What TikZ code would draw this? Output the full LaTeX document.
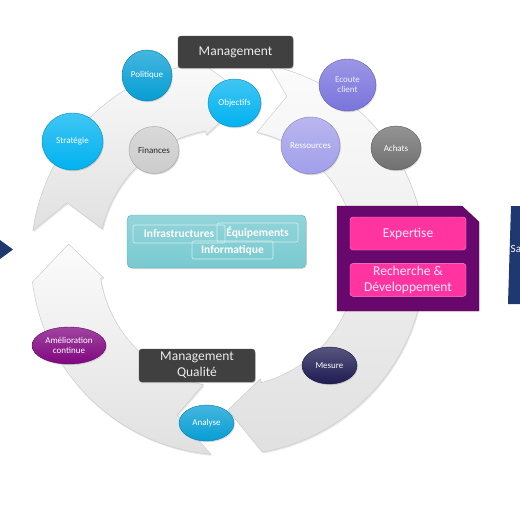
\documentclass[tikz,border=0pt]{standalone}
\usepackage{fontspec}
\setmainfont{Carlito}
\usetikzlibrary{positioning, shapes.geometric, shadows}

\definecolor{darkbox}{RGB}{64,64,64}
\definecolor{skyblue}{RGB}{0,178,240}
\definecolor{deepsky}{RGB}{6,158,212}
\definecolor{lightgrey}{RGB}{204,204,204}
\definecolor{slateblue}{RGB}{122,116,220}
\definecolor{lavender}{RGB}{162,158,234}
\definecolor{midgrey}{RGB}{112,112,112}
\definecolor{tealbox}{RGB}{120,202,208}
\definecolor{plum}{RGB}{104,8,108}
\definecolor{hotpink}{RGB}{255,52,160}
\definecolor{improvepurple}{RGB}{128,6,128}
\definecolor{nightblue}{RGB}{30,28,82}
\definecolor{navyblue}{RGB}{31,56,112}

\begin{document}
\begin{tikzpicture}[x=1pt, y=-1pt,
    ringpart/.style={draw=gray!40, line width=0.5pt, top color=gray!3, bottom color=gray!24,
        drop shadow={opacity=0.2, shadow xshift=1pt, shadow yshift=-1.5pt}},
    bubble/.style={ellipse, draw=#1!80!black, line width=0.4pt, top color=#1!75!white, bottom color=#1,
        text=white, align=center, inner sep=0pt, font=\fontsize{9}{10}\selectfont,
        drop shadow={opacity=0.3, shadow xshift=0.8pt, shadow yshift=-1.2pt}},
    darkblock/.style={rectangle, rounded corners=3pt, draw=black!70, fill=darkbox, text=gray!15, align=center,
        inner sep=0pt, minimum width=115pt, minimum height=32pt, font=\fontsize{13.5}{16}\selectfont,
        drop shadow={opacity=0.3, shadow xshift=0.8pt, shadow yshift=-1.2pt}},
    pinkblock/.style={rectangle, rounded corners=3pt, draw=hotpink!55!white, fill=hotpink, text=white!90!hotpink,
        align=center, inner sep=0pt, minimum width=116pt, minimum height=33pt, font=\fontsize{13.5}{16}\selectfont},
    tag/.style={rectangle, rounded corners=2pt, draw=white!70!tealbox, line width=0.6pt, text=white,
        font=\bfseries\fontsize{11.5}{12}\selectfont, inner sep=0pt}]

\useasboundingbox (0,0) rectangle (520,520);

% Ring
\begin{scope}[shift={(228,258)}]
\path [ringpart] (188:197) arc[start angle=188, end angle=260, radius=197] -- (260:205) -- (277:163)
    -- (260:125) -- (260:129) arc[start angle=260, end angle=193, radius=129] -- (199:170) -- cycle;
\path [ringpart] (282:197) arc[start angle=282, end angle=440, radius=197] -- (450:152)
    -- (435:125) -- (435:129) arc[start angle=435, end angle=283, radius=129] -- (290:172) -- cycle;
\path [ringpart] (95:197) arc[start angle=95, end angle=173, radius=197] -- (185:160)
    -- (171:126) -- (171:129) arc[start angle=171, end angle=101, radius=129] -- (108:165) -- cycle;
\end{scope}

% Side arrows
\begin{scope}
\clip (0,0) rectangle (520,520);
\fill [navyblue] (0,240) -- (13,249.5) -- (0,259) -- cycle;
\fill [navyblue] (511,206) -- (530,206) -- (530,304) -- (508,304) -- cycle;
\node [anchor=west, text=white, inner sep=0pt, font=\fontsize{11}{12}\selectfont] (sat) at (510.5,249) {Sa};
\end{scope}

% Expertise panel
\draw [plum!70!black, fill=plum] (337,206) -- (462,206) -- (479,222) -- (479,311) -- (337,311) -- cycle;
\node [pinkblock] (expertise) at (408,233.5) {Expertise};
\node [pinkblock, below=13pt of expertise] (recherche) {Recherche \&\\Développement};

% Infrastructure panel
\node [rectangle, rounded corners=5pt, draw=tealbox!85!black, top color=tealbox!80!white, bottom color=tealbox,
    minimum width=179pt, minimum height=53pt,
    drop shadow={opacity=0.3, shadow xshift=0.8pt, shadow yshift=-1.2pt}] (infra) at (216.5,241.5) {};
\node [tag, minimum width=92pt, minimum height=18pt] (infrastructures) at (179,234) {Infrastructures};
\node [tag, minimum width=81pt, minimum height=19pt] (equipements) at (257.5,232.5) {Équipements};
\node [tag, minimum width=81pt, minimum height=18pt] (informatique) at (232.5,250) {Informatique};

% Nodes
\node [darkblock] (management) at (235.5,52) {Management};
\node [bubble=skyblue, minimum width=61pt, minimum height=57pt] (strategie) at (72.5,141.5) {Stratégie};
\node [bubble=deepsky, minimum width=50pt, minimum height=51pt] (politique) at (147,75.5) {Politique};
\node [bubble=lightgrey, text=black!85, minimum width=50pt, minimum height=47pt] (finances) at (154,150) {Finances};
\node [bubble=skyblue, minimum width=53pt, minimum height=48pt] (objectifs) at (234.5,103) {Objectifs};
\node [bubble=slateblue, text=white!88!slateblue, minimum width=57pt, minimum height=52pt] (ecoute) at (347.5,85) {Ecoute\\client};
\node [bubble=lavender, minimum width=59pt, minimum height=57pt] (ressources) at (310.5,145.5) {Ressources};
\node [bubble=midgrey, minimum width=50pt, minimum height=44pt] (achats) at (396,148) {Achats};
\node [bubble=improvepurple, minimum width=74pt, minimum height=37pt] (amelioration) at (69,345.5) {Amélioration\\continue};
\node [darkblock, minimum width=116pt, minimum height=33pt] (qualite) at (197,365.5) {Management\\Qualité};
\node [bubble=nightblue, minimum width=55pt, minimum height=37pt] (mesure) at (329.5,365.5) {Mesure};
\node [bubble=deepsky, minimum width=55pt, minimum height=36pt] (analyse) at (206.5,423) {Analyse};

\end{tikzpicture}
\end{document}
